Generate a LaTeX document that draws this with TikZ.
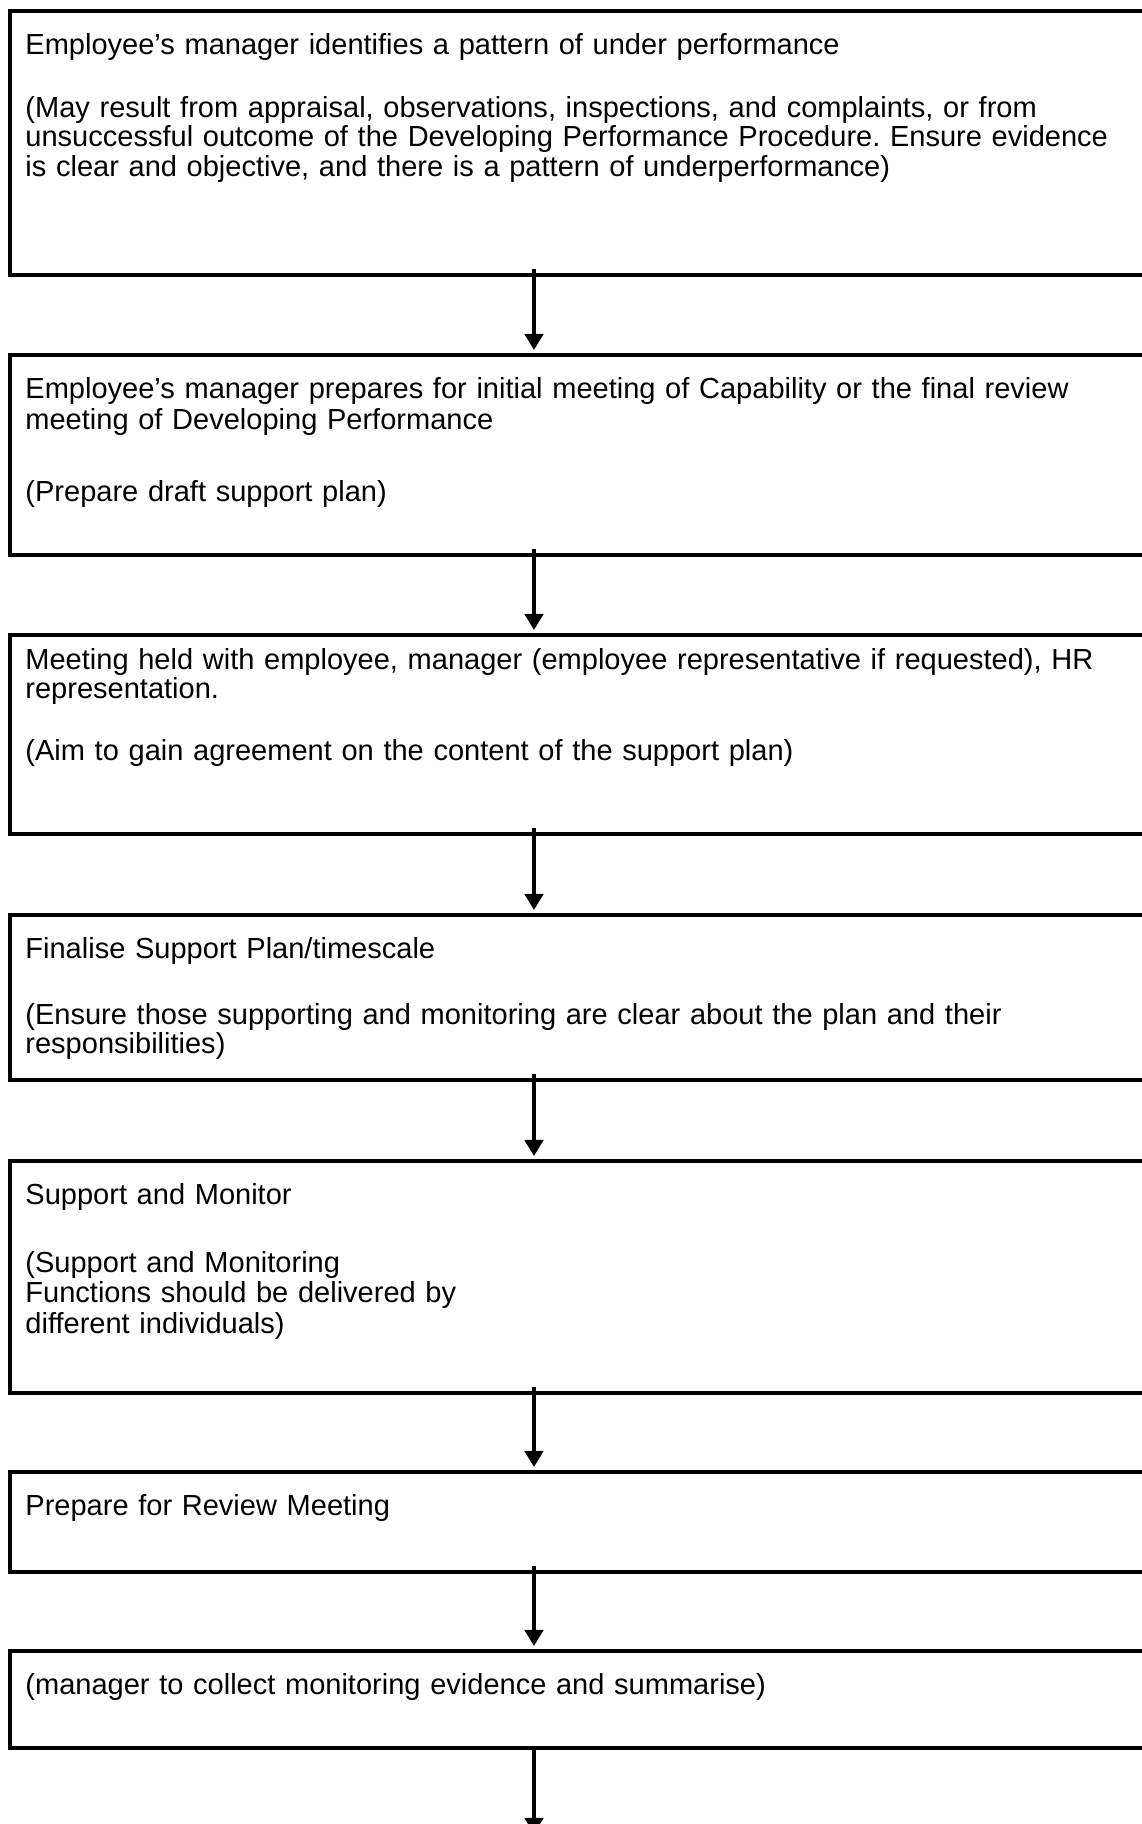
\documentclass[tikz,border=0pt]{standalone}
\usepackage{fontspec}
\setmainfont{Liberation Sans}
\usetikzlibrary{arrows.meta,fit}
\frenchspacing

\begin{document}
\begin{tikzpicture}[x=0.4651pt, y=-0.4651pt,
    stepbox/.style={draw, line width=1.45pt, inner sep=0pt, outer sep=0pt},
    steptext/.style={anchor=base west, inner sep=0pt, align=left, text width=600pt,
      font=\fontsize{13.5pt}{13.8pt}\selectfont},
    flow/.style={line width=2.1pt, -{Triangle[length=7.5pt,width=8.5pt]}}]
  \useasboundingbox (0,0) rectangle (1142,1824);
  \coordinate (ax) at (534,0);
  %
  \node[stepbox, fit={(10,11) (1170,275)}] (box1) {};
  \node[stepbox, fit={(10,355) (1170,555)}] (box2) {};
  \node[stepbox, fit={(10,635) (1170,834)}] (box3) {};
  \node[stepbox, fit={(10,915) (1170,1080)}] (box4) {};
  \node[stepbox, fit={(10,1161) (1170,1393)}] (box5) {};
  \node[stepbox, fit={(10,1472) (1170,1572)}] (box6) {};
  \node[stepbox, fit={(10,1651) (1170,1748)}] (box7) {};
  \coordinate (end) at (534,1834);
  %
  \node[steptext] (identify) at ([shift={(15,43)}]box1.north west)
    {Employee’s manager identifies a pattern of under performance\\[15.5pt]
     (May result from appraisal, observations, inspections, and complaints, or from\\
     unsuccessful outcome of the Developing Performance Procedure. Ensure evidence\\
     is clear and objective, and there is a pattern of underperformance)};
  \node[steptext] (prepare) at ([shift={(15,43)}]box2.north west)
    {Employee’s manager prepares for initial meeting of Capability or the final review\\[1pt]
     meeting of Developing Performance\\[19.5pt]
     (Prepare draft support plan)};
  \node[steptext] (meeting) at ([shift={(15,34)}]box3.north west)
    {Meeting held with employee, manager (employee representative if requested), HR\\
     representation.\\[15pt]
     (Aim to gain agreement on the content of the support plan)};
  \node[steptext] (finalise) at ([shift={(15,43)}]box4.north west)
    {Finalise Support Plan/timescale\\[17pt]
     (Ensure those supporting and monitoring are clear about the plan and their\\
     responsibilities)};
  \node[steptext] (monitor) at ([shift={(15,43)}]box5.north west)
    {Support and Monitor\\[18pt]
     (Support and Monitoring\\
     Functions should be delivered by\\[0.8pt]
     different individuals)};
  \node[steptext] (review) at ([shift={(15,43)}]box6.north west)
    {Prepare for Review Meeting};
  \node[steptext] (evidence) at ([shift={(15,43)}]box7.north west)
    {(manager to collect monitoring evidence and summarise)};
  %
  \draw[flow] ([yshift=2.8pt]box1.south -| ax) -- ([yshift=2.3pt]box2.north -| ax);
  \draw[flow] ([yshift=2.8pt]box2.south -| ax) -- ([yshift=2.3pt]box3.north -| ax);
  \draw[flow] ([yshift=2.8pt]box3.south -| ax) -- ([yshift=2.3pt]box4.north -| ax);
  \draw[flow] ([yshift=2.8pt]box4.south -| ax) -- ([yshift=2.3pt]box5.north -| ax);
  \draw[flow] ([yshift=2.8pt]box5.south -| ax) -- ([yshift=2.3pt]box6.north -| ax);
  \draw[flow] ([yshift=2.8pt]box6.south -| ax) -- ([yshift=2.3pt]box7.north -| ax);
  \draw[flow] (box7.south -| ax) -- (end);
\end{tikzpicture}
\end{document}
